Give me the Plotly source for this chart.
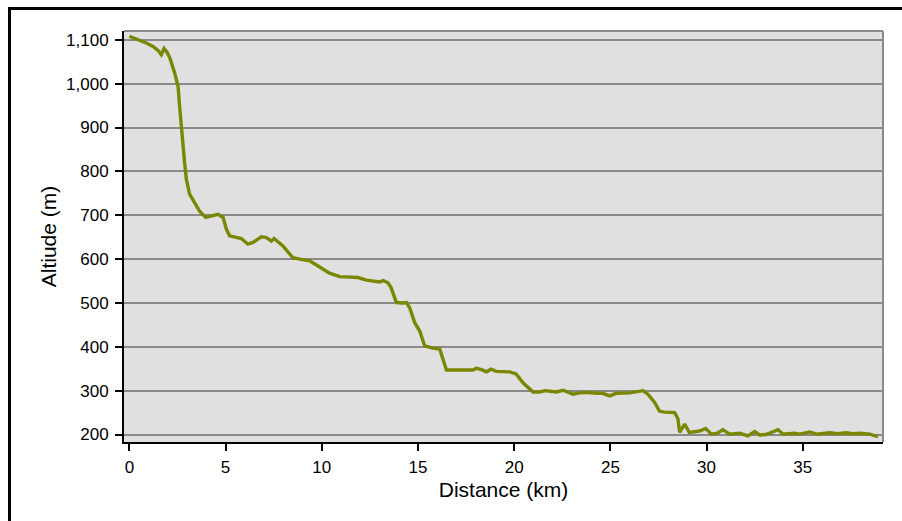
import plotly.graph_objects as go

# Elevation profile along the route
distance_km = [
    0.0, 0.3, 0.55, 0.9, 1.23, 1.5, 1.66, 1.8, 1.95, 2.1, 2.35, 2.53, 2.61, 2.7,
    2.78, 2.87, 2.96, 3.13, 3.39, 3.65, 3.97, 4.26, 4.6, 4.87, 5.04, 5.21, 5.5,
    5.82, 6.16, 6.42, 6.86, 7.12, 7.38, 7.52, 7.98, 8.5, 8.85, 9.37, 9.89, 10.4,
    10.93, 11.4, 11.88, 12.32, 12.66, 13.0, 13.2, 13.44, 13.6, 13.88, 14.2, 14.4,
    14.57, 14.83, 15.09, 15.35, 15.78, 16.13, 16.48, 17.2, 17.86, 18.03, 18.3,
    18.56, 18.8, 19.07, 19.77, 20.1, 20.46, 20.98, 21.33, 21.6, 21.85, 22.19,
    22.54, 23.06, 23.4, 23.75, 24.27, 24.6, 24.96, 25.3, 26.0, 26.7, 26.95, 27.1,
    27.3, 27.56, 27.82, 28.34, 28.51, 28.6, 28.86, 29.1, 29.4, 29.64, 29.95,
    30.25, 30.55, 30.85, 31.2, 31.72, 32.15, 32.5, 32.76, 33.1, 33.71, 33.97,
    34.58, 34.84, 35.36, 35.7, 36.4, 36.8, 37.26, 37.6, 37.96, 38.48, 38.83, 38.9,
]
altitude_m = [
    1108, 1103, 1097, 1092, 1085, 1075, 1066, 1080, 1072, 1059, 1025, 994, 949, 896,
    860, 820, 782, 748, 729, 709, 695, 698, 702, 695, 668, 653, 650,
    647, 634, 638, 651, 649, 641, 647, 630, 603, 600, 596, 582, 568,
    560, 559, 558, 552, 550, 548, 551, 546, 535, 501, 500, 501,
    489, 455, 436, 402, 397, 395, 347, 347, 347, 351, 348,
    343, 349, 344, 343, 338, 318, 297, 297, 300, 299, 297,
    301, 292, 295, 296, 294, 294, 288, 294, 295, 300, 292, 285,
    273, 253, 251, 250, 236, 205, 224, 205, 206, 208, 214,
    201, 203, 211, 201, 203, 197, 207, 199, 200, 211, 201,
    203, 201, 206, 201, 204, 202, 204, 202, 203, 201, 196, 197,
]

x_ticks = [0, 5, 10, 15, 20, 25, 30, 35]
y_ticks = [200, 300, 400, 500, 600, 700, 800, 900, 1000, 1100]

FONT = "Liberation Sans, Arial, sans-serif"
W, H = 902, 521
ML, MR, MT, MB = 124, 19, 31, 79
PW, PH = W - ML - MR, H - MT - MB


def px_x(px):
    return (px - ML) / PW


def px_y(py):
    return 1 - (py - MT) / PH


fig = go.Figure()
fig.add_trace(go.Scatter(
    x=distance_km, y=altitude_m, mode="lines",
    line=dict(color="#7a8700", width=3.4),
    hoverinfo="x+y", showlegend=False,
))

axis_common = dict(
    showline=True, linecolor="black", linewidth=2,
    ticks="outside", tickcolor="black", ticklen=7, tickwidth=2,
    tickfont=dict(family=FONT, size=17, color="black"),
    zeroline=False,
)

fig.update_xaxes(
    range=[-0.28, 39.17], tickvals=x_ticks, showgrid=False,
    ticklabelstandoff=2,
    title=dict(text="Distance (km)", font=dict(family=FONT, size=21, color="black"), standoff=6),
    **axis_common,
)
fig.update_yaxes(
    range=[183, 1120], tickvals=y_ticks, tickformat=",d",
    showgrid=True, gridcolor="#8a8a8a", gridwidth=1.6,
    ticklabelstandoff=3,
    title=dict(text="Altiude (m)", font=dict(family=FONT, size=21, color="black"), standoff=4),
    **axis_common,
)

shapes = [
    # grey frame on the top and right of the plot area
    dict(type="line", xref="paper", yref="paper", x0=0, x1=1, y0=1, y1=1,
         line=dict(color="#8a8a8a", width=2)),
    dict(type="line", xref="paper", yref="paper", x0=1, x1=1, y0=0, y1=1,
         line=dict(color="#8a8a8a", width=2)),
    # outer black frame (top and left edges)
    dict(type="line", xref="paper", yref="paper",
         x0=px_x(8), x1=px_x(910), y0=px_y(8.5), y1=px_y(8.5),
         line=dict(color="black", width=3)),
    dict(type="line", xref="paper", yref="paper",
         x0=px_x(9.5), x1=px_x(9.5), y0=px_y(7), y1=px_y(530),
         line=dict(color="black", width=3)),
]

fig.update_layout(
    width=W, height=H, autosize=False,
    margin=dict(l=ML, r=MR, t=MT, b=MB, pad=0),
    paper_bgcolor="white", plot_bgcolor="#e0e0e0",
    font=dict(family=FONT, color="black"),
    shapes=shapes,
)

fig.write_html("out.html")
